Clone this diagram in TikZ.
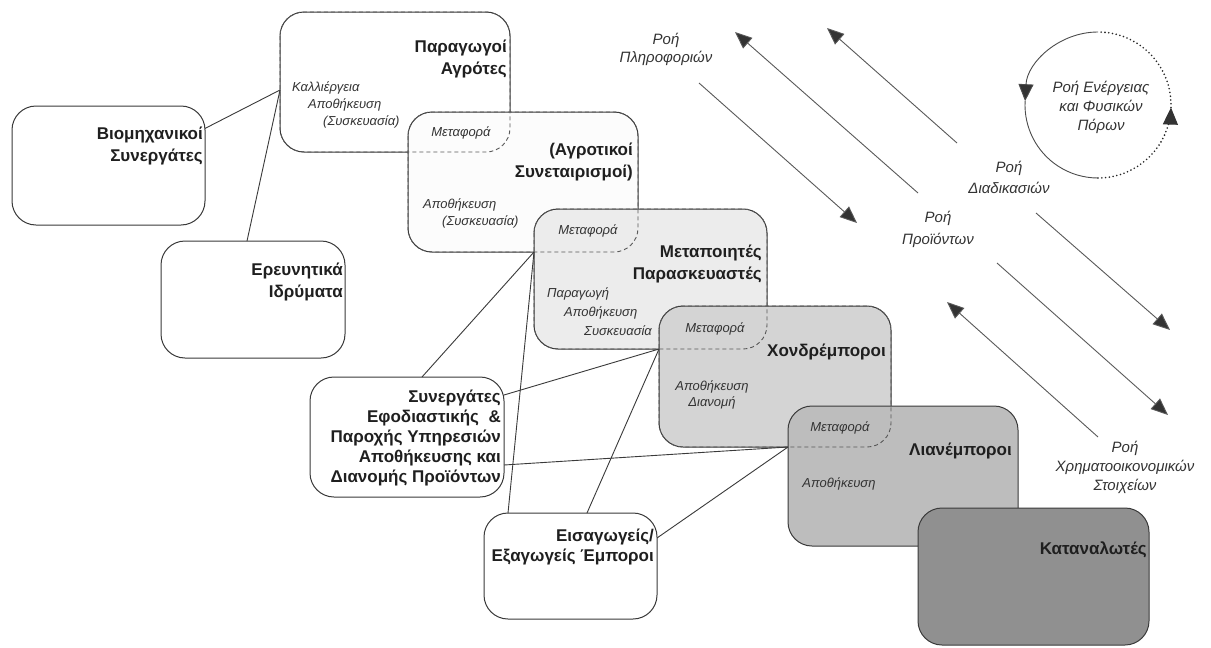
\documentclass[tikz,border=0pt]{standalone}
\usepackage{fontspec}
\setmainfont{Liberation Sans}
\usetikzlibrary{arrows.meta,calc}
\definecolor{edge}{HTML}{3A3A3A}
\definecolor{fillA}{HTML}{FFFFFF}
\definecolor{fillB}{HTML}{FCFCFC}
\definecolor{fillC}{HTML}{ECECEC}
\definecolor{fillD}{HTML}{D4D4D4}
\definecolor{fillE}{HTML}{BDBDBD}
\definecolor{fillF}{HTML}{909090}
\begin{document}
\begin{tikzpicture}[x=1pt,y=-1pt,
  box/.style={draw=edge, line width=1pt, rounded corners=24pt, outer sep=0pt,
    inner sep=0pt, anchor=north west},
  size/.style 2 args={minimum width=#1pt, minimum height=#2pt},
  hidden/.style={draw=edge!85, line width=0.9pt, dash pattern=on 4pt off 3pt,
    rounded corners=24pt},
  title/.style={font=\bfseries\fontsize{17}{22}\selectfont, text=black!88,
    align=right, anchor=east, inner sep=0pt},
  task/.style={font=\itshape\fontsize{13}{17}\selectfont, text=black!80,
    inner sep=0pt},
  flowtext/.style={font=\itshape\fontsize{15}{19}\selectfont, text=black!80,
    align=center, inner sep=0pt},
  link/.style={draw=edge, line width=0.9pt},
  flow/.style={draw=black!65, line width=0.9pt,
    -{Triangle[length=17pt,width=14pt,fill=black!80]}},
  cyctip/.style={-{Triangle[length=17pt,width=15pt,fill=black!80]}},
  cyc/.style={draw=black!70, line width=0.9pt},
  cycdot/.style={draw=black!85, line width=1.8pt, line cap=round,
    dash pattern=on 0pt off 3.8pt},
]
\fill[white] (0,0) rectangle (1211,648);
\useasboundingbox (0,0) rectangle (1211,648);

% partner boxes
\node[box, size={193}{119}, fill=white] (ind) at (12,106) {};
\node[box, size={184}{117}, fill=white] (res) at (161,241) {};
\node[box, size={194}{120}, fill=white] (log) at (310,377) {};
\node[box, size={173}{106}, fill=white] (imp) at (484,513) {};

% chain of stages, each overlapping the previous one
\node[box, size={230}{140}, fill=fillA] (farm) at (280,12) {};
\node[box, size={230}{140}, fill=fillB] (coop) at (408,112) {};
\draw[hidden] (farm.north west) rectangle (farm.south east);
\node[box, size={233}{140}, fill=fillC] (proc) at (534,209) {};
\draw[hidden] (coop.north west) rectangle (coop.south east);
\node[box, size={232}{141}, fill=fillD] (whole) at (659,306) {};
\draw[hidden] (proc.north west) rectangle (proc.south east);
\node[box, size={230}{140}, fill=fillE] (retail) at (788,406) {};
\draw[hidden] (whole.north west) rectangle (whole.south east);
\node[box, size={231}{137}, fill=fillF] (cons) at (918,508) {};

% box titles
\node[title] (farmT) at (507,59) {Παραγωγοί\\Αγρότες};
\node[title] (coopT) at (633,162) {(Αγροτικοί\\Συνεταιρισμοί)};
\node[title] (procT) at (762,264) {Μεταποιητές\\Παρασκευαστές};
\node[title] (wholeT) at (886,352) {Χονδρέμποροι};
\node[title] (retailT) at (1012,451) {Λιανέμποροι};
\node[title] (consT) at (1147,550) {Καταναλωτές};
\node[title] (indT) at (203,146) {Βιομηχανικοί\\Συνεργάτες};
\node[title] (resT) at (343,282) {Ερευνητικά\\Ιδρύματα};
\node[title, font=\bfseries\fontsize{17}{20}\selectfont] (logT) at (501,438)
  {Συνεργάτες\\Εφοδιαστικής~ \&\\Παροχής Υπηρεσιών\\Αποθήκευσης και\\Διανομής Προϊόντων};
\node[title, font=\bfseries\fontsize{17}{20}\selectfont] (impT) at (654,547)
  {Εισαγωγείς/\\Εξαγωγείς Έμποροι};

% activities inside the stages
\node[task, anchor=west, align=left] (farmJ) at (292,105)
  {Καλλιέργεια\\\hspace*{16pt}Αποθήκευση\\\hspace*{31pt}(Συσκευασία)};
\node[task, anchor=west, align=left] (coopJ) at (423,213)
  {Αποθήκευση\\\hspace*{19pt}(Συσκευασία)};
\node[task, anchor=west, align=left, font=\itshape\fontsize{13}{19}\selectfont] (procJ) at (547,312)
  {Παραγωγή\\\hspace*{17pt}Αποθήκευση\\\hspace*{37pt}Συσκευασία};
\node[task, align=center, font=\itshape\fontsize{13}{16}\selectfont] (wholeJ) at (712,395)
  {Αποθήκευση\\Διανομή};
\node[task] (retailJ) at (839,484) {Αποθήκευση};
\node[task] (tr1) at (461,133) {Μεταφορά};
\node[task] (tr2) at (588,231) {Μεταφορά};
\node[task] (tr3) at (715,329) {Μεταφορά};
\node[task] (tr4) at (840,428) {Μεταφορά};

% junction points where the links meet the chain
\coordinate (jF) at ($(farm.west)+(0,8)$);
\coordinate (jP) at (coop.south -| proc.west);
\coordinate (jW) at (proc.south -| whole.west);
\coordinate (jR) at (whole.south -| retail.west);

% links
\draw[link] (ind.21) -- (jF);
\draw[link] ($(res.north)+(-6,0)$) -- (jF);
\draw[link] ($(log.north)+(15,0)$) -- (jP);
\draw[link] ($(imp.north west)+(24,0)$) -- (jP);
\draw[link] ($(log.north east)+(0,18)$) -- (jW);
\draw[link] ($(imp.north west)+(103,0)$) -- (jW);
\draw[link] ($(log.south east)+(0,-32)$) -- (jR);
\draw[link] ($(imp.north east)+(0,25)$) -- (jR);

% flow arrows
\coordinate (a1) at (699,83);   \coordinate (a2) at (857,223);
\coordinate (b1) at (918,193);  \coordinate (b2) at (735,32);
\coordinate (c1) at (957,143);  \coordinate (c2) at (827,28);
\coordinate (d1) at (1036,213); \coordinate (d2) at (1170,330);
\coordinate (e1) at (997,263);  \coordinate (e2) at (1168,415);
\coordinate (f1) at (1098,437); \coordinate (f2) at (947,302);
\draw[flow] (a1) -- (a2);
\draw[flow] (b1) -- (b2);
\draw[flow] (c1) -- (c2);
\draw[flow] (d1) -- (d2);
\draw[flow] (e1) -- (e2);
\draw[flow] (f1) -- (f2);

% energy cycle: solid left half, dotted right half
\coordinate (ec) at (1098,105);
\coordinate (ecL) at ([shift={(177:73pt)}]ec);
\coordinate (ecR) at ([shift={(358:73pt)}]ec);
\draw[cyc, cyctip]
  ([shift={(90:73pt)}]ec) arc[start angle=90, end angle=177, radius=73pt];
\draw[cyc] (ecL) arc[start angle=177, end angle=270, radius=73pt];
\draw[cycdot] ([shift={(270:73pt)}]ec) arc[start angle=270, end angle=345, radius=73pt];
\path[tips=true, cyctip, color=black!80, line width=0.9pt] ($(ecR)+(-1,30)$) -- (ecR);
\draw[cycdot] (ecR) arc[start angle=358, end angle=450, radius=73pt];

% flow labels
\node[flowtext, font=\itshape\fontsize{15}{18}\selectfont] (infoL) at (666,49) {Ροή\\Πληροφοριών};
\node[flowtext, font=\itshape\fontsize{15}{21}\selectfont] (procL) at (1009,177) {Ροή\\Διαδικασιών};
\node[flowtext, font=\itshape\fontsize{15}{22}\selectfont] (prodL) at (938,229) {Ροή\\Προϊόντων};
\node[flowtext] (enL) at (1101,107) {Ροή Ενέργειας\\και Φυσικών\\Πόρων};
\node[flowtext] (finL) at (1125,467) {Ροή\\Χρηματοοικονομικών\\Στοιχείων};
\end{tikzpicture}
\end{document}
